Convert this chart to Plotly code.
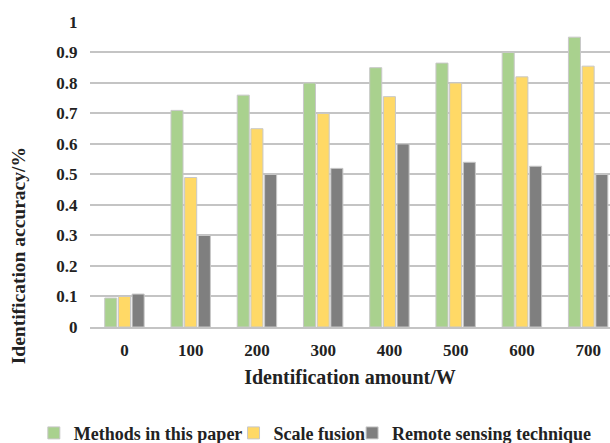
import plotly.graph_objects as go

# Identification amount (W) categories
amounts = ["0", "100", "200", "300", "400", "500", "600", "700"]

# Identification accuracy per method
methods_this_paper = [0.095, 0.71, 0.76, 0.80, 0.85, 0.865, 0.90, 0.95]
scale_fusion = [0.10, 0.49, 0.65, 0.70, 0.755, 0.80, 0.82, 0.855]
remote_sensing = [0.108, 0.30, 0.50, 0.52, 0.60, 0.54, 0.527, 0.50]

series_names = ["Methods in this paper", "Scale fusion", "Remote sensing technique"]
series_colors = ["#A9D18E", "#FFD966", "#7F7F7F"]
series_values = [methods_this_paper, scale_fusion, remote_sensing]
legend_ids = ["legend", "legend2", "legend3"]
legend_x = [-0.108, 0.276, 0.504]

FONT = "Liberation Serif"
TXT = "#222222"
GRID = "#c4c4c4"

fig = go.Figure()
for name, color, vals, lg in zip(series_names, series_colors, series_values, legend_ids):
    fig.add_trace(go.Bar(
        x=amounts, y=vals, name=name, legend=lg,
        marker=dict(color=color, line=dict(color="#c8c8c8", width=1)),
    ))

legend_style = dict(
    orientation="h", xanchor="left", yanchor="middle", y=-0.347,
    font=dict(family=FONT, size=18, color=TXT, weight="bold"),
    itemwidth=30, borderwidth=0, bgcolor="rgba(0,0,0,0)",
)

fig.update_layout(
    width=610, height=443,
    margin=dict(l=90, r=0, t=21, b=116, autoexpand=False),
    plot_bgcolor="white", paper_bgcolor="white",
    barmode="group", bargap=0.38, bargroupgap=0.12,
    font=dict(family=FONT, size=18, color=TXT),
    showlegend=True,
    legend=dict(x=legend_x[0], **legend_style),
    legend2=dict(x=legend_x[1], **legend_style),
    legend3=dict(x=legend_x[2], **legend_style),
)

fig.update_xaxes(
    type="category", range=[-0.52, 7.33], automargin=False,
    showgrid=False, showline=True, linecolor=GRID, linewidth=1.5,
    ticks="outside", ticklen=7, tickcolor="rgba(0,0,0,0)",
    tickfont=dict(family=FONT, size=17, color=TXT, weight="bold"),
    title=dict(text="Identification amount/W", standoff=11,
               font=dict(family=FONT, size=20, color=TXT, weight="bold")),
)

fig.update_yaxes(
    range=[0, 1.003], dtick=0.1, tickformat="~g", automargin=False,
    showgrid=True, gridcolor=GRID, gridwidth=1.5,
    zeroline=False, showline=False,
    ticks="outside", ticklen=8, tickcolor="rgba(0,0,0,0)",
    tickfont=dict(family=FONT, size=17, color=TXT, weight="bold"),
)

# Vertical axis title, placed beside the tick labels
fig.add_annotation(
    text="Identification accuracy/%", textangle=-90,
    xref="paper", yref="paper", x=-0.138, y=0.232,
    xanchor="center", yanchor="middle", showarrow=False,
    font=dict(family=FONT, size=19.5, color=TXT, weight="bold"),
)

fig.write_html("out.html")
